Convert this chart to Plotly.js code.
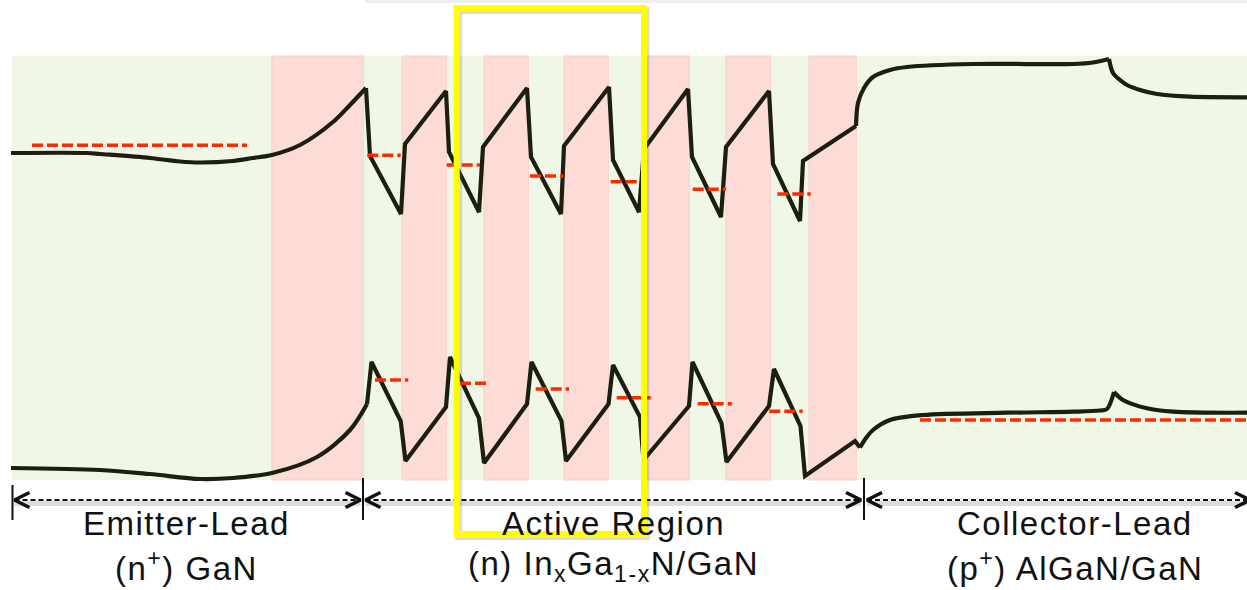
<!DOCTYPE html>
<html><head><meta charset="utf-8">
<script src="https://cdn.plot.ly/plotly-3.0.1.min.js"></script>
<style>
html,body{margin:0;padding:0;background:#fff;}
#chart{width:1247px;height:590px;}
.annotation-text{letter-spacing:1.5px;}
</style></head><body><div id="chart"></div>
<script>
// Position in nm (arbitrary), energy in eV (arbitrary)
const regionEdges = [1.2, 27.2, 36.4, 40.2, 44.7, 48.4, 52.9, 56.4, 60.9, 64.7, 69.0, 72.6, 77.1, 80.9, 85.7, 124.7];
const regionType  = ['G','P','G','P','G','P','G','P','G','P','G','P','G','P','G'];
const regionBottom = 0.0, regionTop = 4.24;

// Conduction band
const cbEmitX = [1.1, 8.7, 10.0, 15.0, 18.0, 20.0, 23.3, 25.3, 27.2, 30.0, 33.3, 35.0, 36.6];
const cbEmitE = [3.27, 3.27, 3.26, 3.22, 3.185, 3.175, 3.19, 3.22, 3.25, 3.35, 3.58, 3.75, 3.92];
const cbActX = [36.6, 37.0, 40.1, 40.5, 44.6, 44.9, 47.9, 48.3, 52.7, 53.1, 56.1, 56.4, 60.9, 61.3, 63.9, 64.4, 68.8, 69.2, 72.1, 72.6, 76.9, 77.3, 80.0, 80.3, 85.6];
const cbActE = [3.92, 3.24, 2.66, 3.36, 3.89, 3.28, 2.68, 3.33, 3.92, 3.23, 2.66, 3.34, 3.93, 3.20, 2.68, 3.31, 3.91, 3.23, 2.63, 3.33, 3.89, 3.16, 2.59, 3.19, 3.54];
const cbColAX = [85.6, 85.8, 86.4, 87.3, 89.0, 90.7, 97.3, 107.3, 109.3, 110.9];
const cbColAE = [3.54, 3.77, 3.92, 4.03, 4.10, 4.13, 4.16, 4.16, 4.175, 4.21];
const cbColBX = [110.9, 111.3, 112.0, 112.7, 114.0, 115.7, 119.0, 124.7];
const cbColBE = [4.21, 4.07, 4.00, 3.95, 3.90, 3.86, 3.833, 3.827];

// Valence band
const vbEmitX = [1.1, 10.0, 15.0, 20.0, 23.3, 27.2, 31.7, 35.0, 36.7];
const vbEmitE = [0.12, 0.10, 0.06, 0.01, 0.02, 0.07, 0.23, 0.50, 0.76];
const vbActX = [36.7, 37.15, 40.07, 40.55, 44.6, 45.0, 47.9, 48.4, 52.7, 53.15, 56.15, 56.6, 60.85, 61.3, 64.0, 64.35, 68.9, 69.25, 72.15, 72.65, 76.9, 77.4, 80.05, 80.5, 85.5, 86.0];
const vbActE = [0.76, 1.18, 0.59, 0.19, 0.73, 1.23, 0.62, 0.17, 0.76, 1.18, 0.59, 0.19, 0.76, 1.15, 0.63, 0.20, 0.74, 1.18, 0.57, 0.18, 0.74, 1.11, 0.54, 0.04, 0.39, 0.325];
const vbColAX = [86.0, 86.6, 87.3, 89.0, 92.3, 100.7, 107.3, 110.0, 110.7, 111.4];
const vbColAE = [0.325, 0.42, 0.50, 0.60, 0.65, 0.673, 0.683, 0.695, 0.71, 0.88];
const vbColBX = [111.4, 112.3, 114.7, 117.3, 124.7];
const vbColBE = [0.88, 0.80, 0.717, 0.683, 0.673];

// Fermi levels
const efEmitX = [3.2, 24.7], efEmitE = 3.347;
const efColX = [92.0, 124.7], efColE = 0.60;
const fnStart = [36.73, 44.67, 53.0, 61.07, 69.27, 77.73];
const fnEnd   = [40.07, 48.0, 56.33, 63.93, 72.6, 81.07];
const fnE     = [3.247, 3.15, 3.04, 2.983, 2.907, 2.86];
const fpStart = [37.5, 46.0, 53.57, 61.67, 69.77, 76.93];
const fpEnd   = [40.83, 48.73, 56.9, 65.07, 73.17, 80.27];
const fpE     = [1.00, 0.967, 0.91, 0.823, 0.763, 0.687];

// Region markers and labels
const boundX = [1.25, 36.3, 86.4];
const boundTop = [-0.05, 0.02, 0.02], boundBottom = -0.40;
const arrowLeft = [1.45, 36.55, 86.7], arrowRight = [36.05, 86.1, 125.0], arrowE = -0.20;
const labelX = [18.6, 61.3, 107.5];
const labelLine1 = ['Emitter-Lead', 'Active Region', 'Collector-Lead'];
const labelLine2 = ['(n<sup>+</sup>) GaN', '(n) In<sub>x</sub>Ga<sub>1-x</sub>N/GaN', '(p<sup>+</sup>) AlGaN/GaN'];
const labelE1 = -0.435, labelE2 = -0.86;
const boxX = [45.67, 64.4], boxE = [-0.54, 4.72];

const bandColor = '#1a1f10', fermiColor = '#ff2a00';
const traces = [];
function band(x, y, shape) {
  traces.push({x: x, y: y, type: 'scatter', mode: 'lines', hoverinfo: 'skip',
    line: {color: bandColor, width: 4.2, shape: shape, smoothing: 0.9}});
}
band(cbEmitX, cbEmitE, 'spline'); band(cbActX, cbActE, 'linear');
band(cbColAX, cbColAE, 'spline'); band(cbColBX, cbColBE, 'spline');
band(vbEmitX, vbEmitE, 'spline'); band(vbActX, vbActE, 'linear');
band(vbColAX, vbColAE, 'spline'); band(vbColBX, vbColBE, 'spline');

function segs(starts, ends, levels) {
  const x = [], y = [];
  starts.forEach((s, i) => { x.push(s, ends[i], null); y.push(levels[i], levels[i], null); });
  return {x, y};
}
const fl = segs([efEmitX[0], efColX[0]].concat(fnStart, fpStart),
                [efEmitX[1], efColX[1]].concat(fnEnd, fpEnd),
                [efEmitE, efColE].concat(fnE, fpE));
traces.push({x: fl.x, y: fl.y, type: 'scatter', mode: 'lines', hoverinfo: 'skip', connectgaps: false,
  line: {color: fermiColor, width: 3.5, dash: '11px,4px'}});

// region arrows
const ar = segs(arrowLeft, arrowRight, arrowLeft.map(() => arrowE));
traces.push({x: ar.x, y: ar.y.map(v => v === null ? null : v - 0.035), type: 'scatter', mode: 'lines', hoverinfo: 'skip',
  line: {color: 'rgba(120,120,120,0.25)', width: 5}});
traces.push({x: ar.x, y: ar.y, type: 'scatter', mode: 'lines', hoverinfo: 'skip',
  line: {color: '#111', width: 2, dash: '5px,3px'}});
const chX = [], chY = [], hw = 1.5, hh = 0.075;
arrowLeft.forEach(t => { chX.push(t + hw, t, t + hw, null); chY.push(arrowE + hh, arrowE, arrowE - hh, null); });
arrowRight.forEach(t => { chX.push(t - hw, t, t - hw, null); chY.push(arrowE + hh, arrowE, arrowE - hh, null); });
traces.push({x: chX, y: chY, type: 'scatter', mode: 'lines', hoverinfo: 'skip',
  line: {color: '#111', width: 3.5}});
const tkX = [], tkY = [];
boundX.forEach((b, i) => { tkX.push(b, b, null); tkY.push(boundTop[i], boundBottom, null); });
traces.push({x: tkX, y: tkY, type: 'scatter', mode: 'lines', hoverinfo: 'skip',
  line: {color: '#111', width: 2}});

// labels
const labelFont = {family: '"Liberation Sans", Arial, sans-serif', size: 33, color: '#111'};
const annotations = [];
labelX.forEach((lx, i) => {
  annotations.push({x: lx, y: labelE1, xref: 'x', yref: 'y', text: labelLine1[i], showarrow: false,
    xanchor: 'center', yanchor: 'middle', font: labelFont});
  annotations.push({x: lx, y: labelE2, xref: 'x', yref: 'y', text: labelLine2[i], showarrow: false,
    xanchor: 'center', yanchor: 'middle', font: labelFont});
});

const shapes = [];
regionType.forEach((t, i) => {
  shapes.push({type: 'rect', xref: 'x', yref: 'y', layer: 'below',
    x0: regionEdges[i], x1: regionEdges[i + 1], y0: regionBottom, y1: regionTop,
    fillcolor: t === 'G' ? '#f0f7e7' : '#fddcd8',
    line: {width: t === 'G' ? 0 : 1, color: '#f6cfc2'}});
});
shapes.push({type: 'line', xref: 'x', yref: 'y', layer: 'below', x0: 36.5, x1: 124.7, y0: 4.785, y1: 4.785,
  line: {color: '#efefef', width: 3}});
shapes.push({type: 'rect', xref: 'x', yref: 'y', layer: 'above',
  x0: boxX[0] + 0.2, x1: boxX[1] + 0.2, y0: boxE[0] - 0.025, y1: boxE[1] - 0.025,
  line: {color: 'rgba(90,90,90,0.22)', width: 7}});
shapes.push({type: 'rect', xref: 'x', yref: 'y', layer: 'above',
  x0: boxX[0], x1: boxX[1], y0: boxE[0], y1: boxE[1],
  line: {color: '#ffff00', width: 6}});

const layout = {
  width: 1247, height: 590, margin: {l: 0, r: 0, t: 0, b: 0},
  paper_bgcolor: '#ffffff', plot_bgcolor: '#ffffff', showlegend: false,
  xaxis: {range: [0, 124.7], visible: false, fixedrange: true},
  yaxis: {range: [-1.1, 4.8], visible: false, fixedrange: true},
  shapes: shapes, annotations: annotations
};
Plotly.newPlot('chart', traces, layout, {displayModeBar: false, staticPlot: true});
</script></body></html>
